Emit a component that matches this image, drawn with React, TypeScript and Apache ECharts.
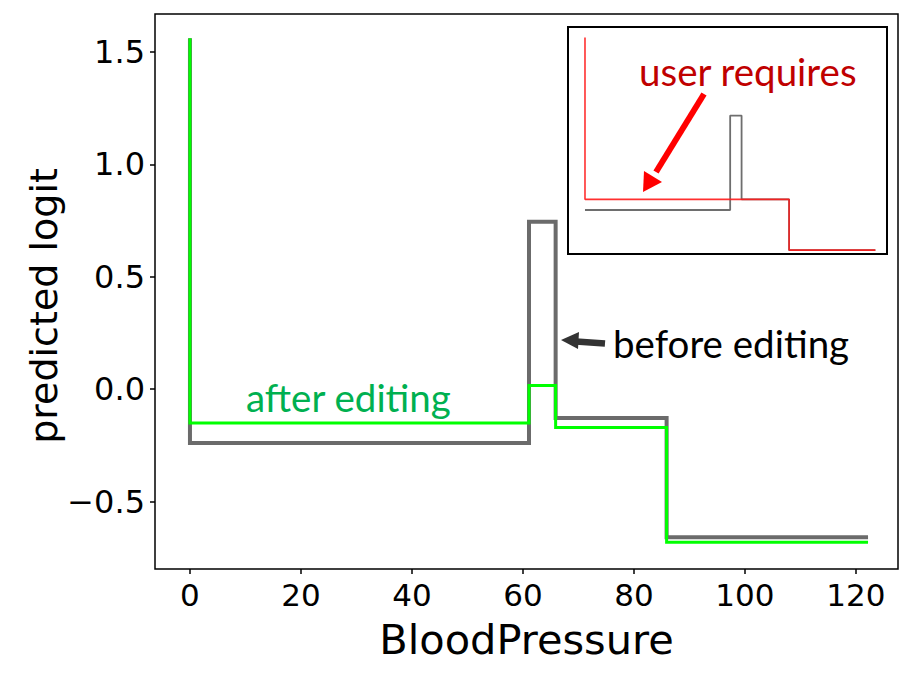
import React, { useEffect, useRef } from "react";
import * as echarts from "echarts";

// Step-function edges along BloodPressure
const edges = [0, 61.1, 65.9, 85.9, 122.2];
// Value at BloodPressure = 0 (spike)
const spikeValue = 1.56;
// Levels of each segment between edges
const beforeLevels = [-0.239, 0.745, -0.128, -0.658];
const afterLevels = [-0.15, 0.017, -0.17, -0.68];
const requiredLevels = [-0.128, -0.128, -0.128, -0.658];

const xTicks = [0, 20, 40, 60, 80, 100, 120];
const yTicks = [-0.5, 0, 0.5, 1.0, 1.5];

function stepPoints(levels: number[]): number[][] {
  const pts: number[][] = [[edges[0], spikeValue]];
  for (let i = 0; i < levels.length; i++) {
    pts.push([edges[i], levels[i]]);
    pts.push([edges[i + 1], levels[i]]);
  }
  return pts;
}

export default function App() {
  const ref = useRef<HTMLDivElement>(null);
  useEffect(() => {
    if (!ref.current) return;
    const chart = echarts.init(ref.current, null, { renderer: "svg" });
    const tickFont = "DejaVu Sans";
    const annFont = "Lato";
    chart.setOption({
      animation: false,
      backgroundColor: "#fff",
      grid: [
        {
          left: 155,
          right: 16,
          top: 14,
          bottom: 109,
          show: true,
          borderColor: "#000",
          borderWidth: 1.5,
          backgroundColor: "transparent",
        },
        {
          left: 568,
          top: 27,
          width: 319,
          height: 227,
          show: true,
          borderColor: "#000",
          borderWidth: 2,
          backgroundColor: "#fff",
          z: 5,
        },
      ],
      xAxis: [
        {
          type: "value",
          gridIndex: 0,
          min: -6.3,
          max: 127.6,
          splitLine: { show: false },
          axisLine: { show: false, onZero: false },
          axisTick: {
            show: true,
            inside: false,
            length: 5,
            lineStyle: { color: "#000", width: 1.5 },
            customValues: xTicks,
          },
          axisLabel: {
            customValues: xTicks,
            fontFamily: tickFont,
            fontSize: 31,
            color: "#000",
            margin: 10,
          },
          name: "BloodPressure",
          nameLocation: "middle",
          nameGap: 49,
          nameTextStyle: { fontFamily: tickFont, fontSize: 41.5, color: "#000" },
        },
        {
          type: "value",
          gridIndex: 1,
          min: -7.15,
          max: 127.1,
          show: false,
          splitLine: { show: false },
        },
      ],
      yAxis: [
        {
          type: "value",
          gridIndex: 0,
          min: -0.799,
          max: 1.668,
          splitLine: { show: false },
          axisLine: { show: false, onZero: false },
          axisTick: {
            show: true,
            inside: false,
            length: 5,
            lineStyle: { color: "#000", width: 1.5 },
            customValues: yTicks,
          },
          axisLabel: {
            customValues: yTicks,
            fontFamily: tickFont,
            fontSize: 32,
            color: "#000",
            margin: 10,
            formatter: (v: number) => (v < 0 ? "\u2212" + Math.abs(v).toFixed(1) : v.toFixed(1)),
          },
        },
        {
          type: "value",
          gridIndex: 1,
          min: -0.698,
          max: 1.669,
          show: false,
          splitLine: { show: false },
        },
      ],
      series: [
        {
          name: "before editing",
          type: "line",
          xAxisIndex: 0,
          yAxisIndex: 0,
          data: stepPoints(beforeLevels),
          showSymbol: false,
          lineStyle: { color: "#6b6b6b", width: 4, join: "miter" },
          z: 2,
        },
        {
          name: "after editing",
          type: "line",
          xAxisIndex: 0,
          yAxisIndex: 0,
          data: stepPoints(afterLevels),
          showSymbol: false,
          lineStyle: { color: "#00ff00", width: 3, join: "miter" },
          z: 3,
        },
        {
          name: "inset before",
          type: "line",
          xAxisIndex: 1,
          yAxisIndex: 1,
          data: stepPoints(beforeLevels).slice(1),
          showSymbol: false,
          lineStyle: { color: "#6e6e6e", width: 1.8 },
          z: 6,
        },
        {
          name: "user requires",
          type: "line",
          xAxisIndex: 1,
          yAxisIndex: 1,
          data: stepPoints(requiredLevels),
          showSymbol: false,
          lineStyle: { color: "#ff1a1a", width: 1.6, opacity: 0.9 },
          z: 7,
        },
      ],
      graphic: [
        {
          type: "text",
          x: 44,
          y: 306,
          rotation: Math.PI / 2,
          z: 20,
          style: {
            text: "predicted logit",
            fill: "#000",
            font: `38px ${tickFont}`,
            textAlign: "center",
            textVerticalAlign: "middle",
          },
        },
        {
          type: "text",
          x: 246,
          y: 397,
          z: 20,
          style: {
            text: "after editing",
            fill: "#00b050",
            font: `38.5px ${annFont}`,
            textAlign: "left",
            textVerticalAlign: "middle",
          },
        },
        {
          type: "text",
          x: 613,
          y: 343,
          z: 20,
          style: {
            text: "before editing",
            fill: "#000",
            font: `38.5px ${annFont}`,
            textAlign: "left",
            textVerticalAlign: "middle",
          },
        },
        {
          type: "text",
          x: 639,
          y: 71,
          z: 20,
          style: {
            text: "user requires",
            fill: "#c00000",
            font: `38.5px ${annFont}`,
            textAlign: "left",
            textVerticalAlign: "middle",
          },
        },
        {
          type: "line",
          z: 20,
          shape: { x1: 605, y1: 343.5, x2: 576, y2: 341.5 },
          style: { stroke: "#333", lineWidth: 6.5 },
        },
        {
          type: "polygon",
          z: 20,
          shape: { points: [[561, 340], [579, 332], [578, 349]] },
          style: { fill: "#333" },
        },
        {
          type: "line",
          z: 20,
          shape: { x1: 704, y1: 94, x2: 656, y2: 172 },
          style: { stroke: "#ff0000", lineWidth: 6 },
        },
        {
          type: "polygon",
          z: 20,
          shape: { points: [[643, 192], [644, 171], [662, 182]] },
          style: { fill: "#ff0000" },
        },
      ],
    });
    return () => chart.dispose();
  }, []);
  return (
    <div
      ref={ref}
      style={{ position: "fixed", left: 0, top: 0, width: 914, height: 678 }}
    />
  );
}
